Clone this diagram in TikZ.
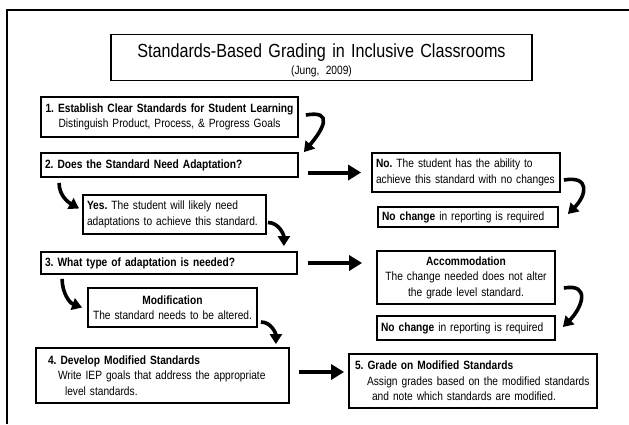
\documentclass[tikz,border=0pt]{standalone}
\usepackage{fontspec}
\setmainfont{Liberation Sans}[FakeStretch=0.85]
\usetikzlibrary{arrows.meta}

\begin{document}
\frenchspacing
\begin{tikzpicture}[x=1pt,y=-1pt,
        box/.style={draw,line width=1.8pt,inner xsep=4pt,inner ysep=2pt,align=left,
            font=\fontsize{12}{15.5}\selectfont},
        cbox/.style={box,align=center},
        bigarrow/.style={line width=4pt,-{Triangle[length=13pt,width=15pt]}},
        turn/.style={line width=3.6pt,-{Triangle[length=10pt,width=12pt]}}]

            \useasboundingbox (0,0) rectangle (629,424);
            \draw[line width=2pt] (7,424) |- (629,10);

            % Title
            \node[cbox,text width=413pt,minimum height=46pt,text height=19pt,
                font=\fontsize{19}{17}\selectfont] (T) at (321.5,57.5)
                {Standards-Based Grading in Inclusive Classrooms\\
                 \fontsize{12}{17}\selectfont (Jung, 2009)};

            % Steps on the left
            \node[cbox,text width=249pt,minimum height=40pt] (S1) at (169.5,117)
                {\textbf{1. Establish Clear Standards for Student Learning}\\
                 Distinguish Product, Process, \& Progress Goals};
            \node[box,text width=249pt,minimum height=24pt] (S2) at (169.5,165)
                {\textbf{2. Does the Standard Need Adaptation?}};
            \node[box,text width=175pt,minimum height=39pt] (Yes) at (174.5,214.5)
                {\textbf{Yes.} The student will likely need\\
                 adaptations to achieve this standard.};
            \node[box,text width=248pt,minimum height=22pt] (S3) at (169,263)
                {\textbf{3. What type of adaptation is needed?}};
            \node[cbox,text width=161pt,minimum height=39pt] (Mod) at (172.5,307.5)
                {\textbf{Modification}\\
                 The standard needs to be altered.};
            \node[box,text width=245pt,minimum height=55pt] (S4) at (162.5,375.5)
                {\hspace*{8pt}\textbf{4. Develop Modified Standards}\\
                 \hspace*{18pt}Write IEP goals that address the appropriate\\
                 \hspace*{25pt}level standards.};

            % Outcomes on the right
            \node[box,text width=180pt,minimum height=39pt] (No) at (466,172.5)
                {\textbf{No.} The student has the ability to\\
                 achieve this standard with no changes};
            \node[box,text width=172pt,minimum height=20pt] (NC1) at (468,217)
                {\textbf{No change} in reporting is required};
            \node[cbox,text width=170pt,minimum height=53pt] (Acc) at (466,277.5)
                {\textbf{Accommodation}\\
                 The change needed does not alter\\
                 the grade level standard.};
            \node[box,text width=170pt,minimum height=24pt] (NC2) at (466,328)
                {\textbf{No change} in reporting is required};
            \node[box,text width=240pt,minimum height=54pt] (S5) at (473,381)
                {\hspace*{2pt}\textbf{5. Grade on Modified Standards}\\
                 \hspace*{14pt}Assign grades based on the modified standards\\
                 \hspace*{19pt}and note which standards are modified.};

            % Curved arrows between steps
            \draw[turn] ([xshift=7pt,yshift=2pt]S1.east) to[out=10,in=50,looseness=2] ([xshift=5pt]S2.north east);
            \draw[turn] ([xshift=19pt,yshift=-5pt]S2.south west) to[out=-90,in=150] ([xshift=-3pt,yshift=6pt]Yes.west);
            \draw[turn] ([xshift=1pt,yshift=-8pt]Yes.east) to[out=0,in=90] ([xshift=-14pt,yshift=5pt]S3.north east);
            \draw[turn] ([xshift=22pt,yshift=-4pt]S3.south west) to[out=-90,in=160] ([xshift=-5pt]Mod.west);
            \draw[turn] ([xshift=3pt,yshift=-14.5pt]Mod.east) to[out=0,in=90] ([xshift=-14pt,yshift=3pt]S4.north east);
            \draw[turn] ([xshift=3pt,yshift=-7.5pt]No.east) to[out=10,in=45,looseness=2] ([xshift=9pt,yshift=3pt]NC1.east);
            \draw[turn] ([xshift=8pt,yshift=-10.5pt]Acc.east) to[out=10,in=45,looseness=1.8] ([xshift=7pt,yshift=1pt]NC2.east);

            % Straight arrows to the right
            \coordinate (S4out) at ([yshift=3.5pt]S4.east);
            \draw[bigarrow,shorten <=9pt,shorten >=10pt] (S2.east |- No.west) -- (No.west);
            \draw[bigarrow,shorten <=10pt,shorten >=14pt] (S3.east) -- (S3.east -| Acc.west);
            \draw[bigarrow,shorten <=9pt,shorten >=4pt] (S4out) -- (S4out -| S5.west);

        \end{tikzpicture}
\end{document}
